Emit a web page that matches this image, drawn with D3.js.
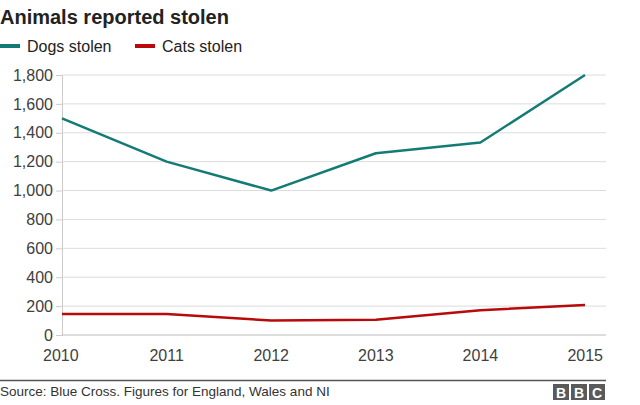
<!DOCTYPE html>
<html><head><meta charset="utf-8">
<script src="https://cdn.jsdelivr.net/npm/d3@7"></script>
<style>body{margin:0;background:#fff}svg{display:block;font-family:"Liberation Sans",Arial,sans-serif}</style>
</head><body><svg id="c" width="640" height="405"></svg>
<script>
const years = [2010, 2011, 2012, 2013, 2014, 2015];
const dogsStolen = [1500, 1200, 1000, 1258, 1333, 1800];
const catsStolen = [145, 145, 100, 105, 172, 207];
const yTicks = [0, 200, 400, 600, 800, 1000, 1200, 1400, 1600, 1800];
const seriesNames = ["Dogs stolen", "Cats stolen"];
const seriesColors = ["#137b75", "#b80a0a"];

const svg = d3.select("#c");
const x = d3.scaleLinear().domain([2010, 2015]).range([62, 585]);
const y = d3.scaleLinear().domain([0, 1800]).range([335, 75]);

svg.append("text").attr("x", 0).attr("y", 24).attr("font-size", 20).attr("font-weight", "bold").attr("fill", "#222").text("Animals reported stolen");

// legend
const legX = [0, 135];
seriesNames.forEach((n, i) => {
  svg.append("rect").attr("x", legX[i]).attr("y", 44).attr("width", 20).attr("height", 4).attr("fill", seriesColors[i]);
  svg.append("text").attr("x", legX[i] + 27).attr("y", 52).attr("font-size", 16).attr("fill", "#222").text(n);
});

// gridlines
svg.append("g").selectAll("line").data(yTicks.filter(d => d > 0)).join("line")
  .attr("x1", 62).attr("x2", 606).attr("y1", d => y(d)).attr("y2", d => y(d))
  .attr("stroke", "#dcdcdc").attr("stroke-width", 1);

// y axis
const ya = svg.append("g").attr("transform", "translate(62,0)")
  .call(d3.axisLeft(y).tickValues(yTicks).tickFormat(d3.format(",")).tickSize(6).tickPadding(3));
ya.select(".domain").attr("stroke", "#ccc");
ya.selectAll(".tick line").attr("stroke", "#ccc");
ya.selectAll("text").attr("font-size", 16).attr("fill", "#404040").attr("font-family", "Liberation Sans, Arial, sans-serif");

// x baseline
svg.append("line").attr("x1", 62).attr("x2", 606).attr("y1", y(0)).attr("y2", y(0)).attr("stroke", "#bbb");

// x labels
svg.append("g").selectAll("text").data(years).join("text")
  .attr("x", d => x(d)).attr("y", 361).attr("text-anchor", (d, i) => i === 0 ? "start" : (i === years.length - 1 ? "end" : "middle"))
  .attr("dx", (d, i) => i === 0 ? -19 : (i === years.length - 1 ? 18 : 0))
  .attr("font-size", 16).attr("fill", "#404040").text(d => d);

// lines
const line = d3.line().x((d, i) => x(years[i])).y(d => y(d));
[dogsStolen, catsStolen].forEach((s, i) => {
  svg.append("path").datum(s).attr("d", line).attr("fill", "none")
    .attr("stroke", seriesColors[i]).attr("stroke-width", 2.5).attr("stroke-linejoin", "round");
});

// footer
svg.append("line").attr("x1", 0).attr("x2", 606).attr("y1", 380.5).attr("y2", 380.5).attr("stroke", "#555").attr("stroke-width", 1.5);
svg.append("text").attr("x", 0).attr("y", 396).attr("font-size", 13.5).attr("fill", "#333").text("Source: Blue Cross. Figures for England, Wales and NI");
["B", "B", "C"].forEach((l, i) => {
  const bx = 553 + i * 18;
  svg.append("rect").attr("x", bx).attr("y", 384).attr("width", 16).attr("height", 16).attr("fill", "#5a5a5a");
  svg.append("text").attr("x", bx + 8).attr("y", 398).attr("text-anchor", "middle").attr("font-size", 14).attr("font-weight", "bold").attr("fill", "#fff").text(l);
});
</script></body></html>
